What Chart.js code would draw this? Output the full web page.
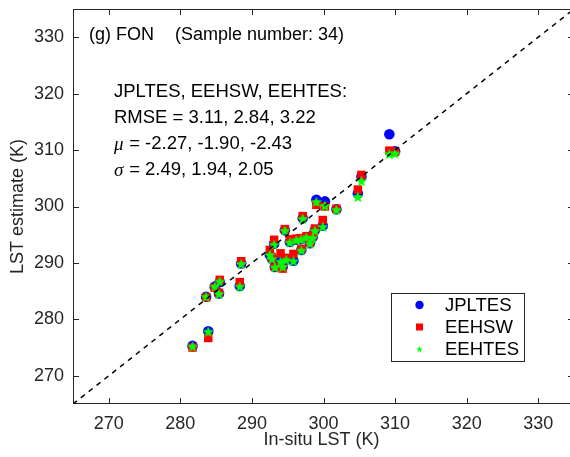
<!DOCTYPE html>
<html><head><meta charset="utf-8">
<script src="https://cdn.jsdelivr.net/npm/chart.js@4/dist/chart.umd.min.js"></script>
<style>
html,body{margin:0;padding:0;background:#fff;overflow:hidden;}
#c{display:block;}
</style></head><body>
<canvas id="c" width="570" height="457"></canvas>
<script>
// ---- data ----
const inSituLST = [281.7,283.6,283.9,284.8,285.4,285.5,288.3,288.5,292.5,292.8,293.1,293.2,294.0,294.3,294.6,294.8,295.3,295.8,296.2,296.8,296.9,297.1,297.6,298.1,298.5,298.8,299.0,299.9,300.2,301.8,304.8,305.3,309.2,310.0];
const jplTES   = [275.3,284.0,277.9,285.8,284.6,286.6,285.9,289.9,291.4,290.8,293.4,289.3,290.3,289.3,295.8,290.6,293.7,290.4,294.1,294.2,292.3,297.9,294.6,293.5,294.6,295.8,301.2,296.6,300.9,299.5,302.3,305.3,312.8,309.8];
const eehsw    = [275.0,283.9,276.7,285.6,284.7,287.0,286.6,290.3,292.3,291.0,294.1,289.3,291.7,289.0,296.0,290.9,294.2,291.6,294.3,294.4,292.5,298.3,294.7,293.6,294.9,296.1,300.3,297.6,300.0,299.6,303.0,305.6,309.9,309.7];
const eehtes   = [275.2,284.0,277.8,285.8,284.5,286.7,285.8,289.8,291.4,290.7,293.2,289.2,290.2,289.3,295.7,290.5,293.6,290.3,294.0,294.1,292.2,297.8,294.5,293.4,294.4,295.7,300.8,296.4,300.1,299.4,301.7,304.5,309.3,309.4];
const seriesNames = ['JPLTES','EEHSW','EEHTES'];
const axisRange = [265, 335];      // full axis range (the figure is cropped on the right)
const xVisibleMax = 334.44;        // x value at the cropped right edge of the picture
const xTicks = [270,280,290,300,310,320,330];
const yTicks = [270,280,290,300,310,320,330];
const titleText = ['(g) FON', '(Sample number: 34)'];
const statsHeader = 'JPLTES, EEHSW, EEHTES:';
const rmse  = ['3.11','2.84','3.22'];
const mu    = ['-2.27','-1.90','-2.43'];
const sigma = ['2.49','1.94','2.05'];

// ---- styles ----
const FONT = '"Liberation Sans", Arial, sans-serif';
function makeStar(size, color){
  const c=document.createElement('canvas'); c.width=c.height=size;
  const g=c.getContext('2d'); const cx=size/2, cy=size/2+0.4, R=size/2, r=R*0.42;
  g.beginPath();
  for(let i=0;i<10;i++){ const a=-Math.PI/2+i*Math.PI/5; const rad=i%2?r:R; g.lineTo(cx+rad*Math.cos(a), cy+rad*Math.sin(a)); }
  g.closePath(); g.fillStyle=color; g.fill(); return c;
}
const starBig = makeStar(12,'#00ff00');
const starSmall = makeStar(7,'#00ff00');

const pts = arr => inSituLST.map((x,i)=>({x:x, y:arr[i]}));

const boxPlugin = {
  id:'boxPlugin',
  afterDraw(chart){
    const {ctx, chartArea:a, scales:{x, y}} = chart;
    const rightAxis = x.getPixelForValue(axisRange[1]);
    ctx.save();
    ctx.strokeStyle='#262626'; ctx.lineWidth=1;
    ctx.beginPath();
    ctx.moveTo(a.left+0.5, a.top+0.5); ctx.lineTo(a.right, a.top+0.5);
    ctx.moveTo(a.left+0.5, a.top); ctx.lineTo(a.left+0.5, a.bottom);
    ctx.moveTo(a.left, a.bottom-0.5); ctx.lineTo(a.right, a.bottom-0.5);
    xTicks.forEach(v=>{ const px=Math.round(x.getPixelForValue(v))+0.5;
      ctx.moveTo(px,a.bottom); ctx.lineTo(px,a.bottom-6);
      ctx.moveTo(px,a.top); ctx.lineTo(px,a.top+6); });
    yTicks.forEach(v=>{ const py=Math.round(y.getPixelForValue(v))+0.5;
      ctx.moveTo(a.left,py); ctx.lineTo(a.left+6,py);
      ctx.moveTo(rightAxis,py); ctx.lineTo(rightAxis-6,py); });
    ctx.stroke();

    // texts
    ctx.fillStyle='#000'; ctx.textBaseline='middle'; ctx.textAlign='left';
    ctx.font='18px '+FONT;
    ctx.fillText(titleText[0], 89, 35);
    ctx.fillText(titleText[1], 175, 35);
    ctx.font='18.5px '+FONT;
    ctx.fillText(statsHeader, 114, 92);
    ctx.fillText('RMSE = '+rmse.join(', '), 114, 118);
    ctx.font='italic 19px "Liberation Serif", serif';
    ctx.fillText('\u03bc', 114, 145);
    ctx.fillText('\u03c3', 114, 171);
    ctx.font='18.5px '+FONT;
    ctx.fillText(' = '+mu.join(', '), 124, 144);
    ctx.fillText(' = '+sigma.join(', '), 124, 170);

    // legend
    const lx=391, ly=293, lw=133, lh=68;
    ctx.fillStyle='#fff'; ctx.fillRect(lx,ly,lw,lh);
    ctx.strokeStyle='#262626'; ctx.strokeRect(lx+0.5,ly+0.5,lw,lh);
    const rows=[305,327,349], mx=419.5;
    ctx.fillStyle='#0000ff'; ctx.beginPath(); ctx.arc(mx,rows[0],4.2,0,Math.PI*2); ctx.fill();
    ctx.fillStyle='#ff0000'; ctx.fillRect(mx-3.5,rows[1]-3.5,7,7);
    ctx.drawImage(starSmall, mx-3.5, rows[2]-3.5);
    ctx.fillStyle='#000'; ctx.font='18.5px '+FONT;
    seriesNames.forEach((n,i)=>ctx.fillText(n, 445, rows[i]+1));
    ctx.restore();
  }
};

new Chart(document.getElementById('c'), {
  type:'scatter',
  data:{ datasets:[
    { type:'line', label:'1:1', data:[{x:axisRange[0],y:axisRange[0]},{x:axisRange[1],y:axisRange[1]}],
      borderColor:'#000', borderWidth:1.5, borderDash:[5,5], pointRadius:0, fill:false },
    { label:seriesNames[2], data:pts(eehtes), pointStyle:starBig, pointRadius:6, backgroundColor:'#00ff00', borderWidth:0 },
    { label:seriesNames[1], data:pts(eehsw), pointStyle:'rect', pointRadius:6, backgroundColor:'#ff0000', borderColor:'#ff0000', borderWidth:0 },
    { label:seriesNames[0], data:pts(jplTES), pointStyle:'circle', pointRadius:5.3, backgroundColor:'#0000ff', borderColor:'#0000ff', borderWidth:0 }
  ]},
  options:{
    responsive:false, animation:false, devicePixelRatio:1,
    layout:{ autoPadding:false, padding:{ left:0, top:9, right:0, bottom:0 } },
    plugins:{ legend:{display:false}, tooltip:{enabled:false} },
    scales:{
      x:{ type:'linear', min:axisRange[0], max:xVisibleMax,
          afterBuildTicks: s=>{ s.ticks = xTicks.map(v=>({value:v})); },
          afterFit: s=>{ s.height = 53; s.paddingLeft = 0; s.paddingRight = 0; },
          grid:{display:false, drawTicks:false}, border:{display:false},
          ticks:{ padding:9, color:'#262626', font:{family:FONT, size:18}, maxRotation:0, autoSkip:false },
          title:{ display:true, text:'In-situ LST (K)', color:'#262626', font:{family:FONT, size:18}, padding:{top:0,bottom:6} } },
      y:{ type:'linear', min:axisRange[0], max:axisRange[1],
          afterBuildTicks: s=>{ s.ticks = yTicks.map(v=>({value:v})); },
          afterFit: s=>{ s.width = 73; s.paddingTop = 0; s.paddingBottom = 0; },
          grid:{display:false, drawTicks:false}, border:{display:false},
          ticks:{ padding:9, color:'#262626', font:{family:FONT, size:18}, autoSkip:false },
          title:{ display:true, text:'LST estimate (K)', color:'#262626', font:{family:FONT, size:18}, padding:{top:7,bottom:0} } }
    }
  },
  plugins:[boxPlugin]
});
</script>
</body></html>
